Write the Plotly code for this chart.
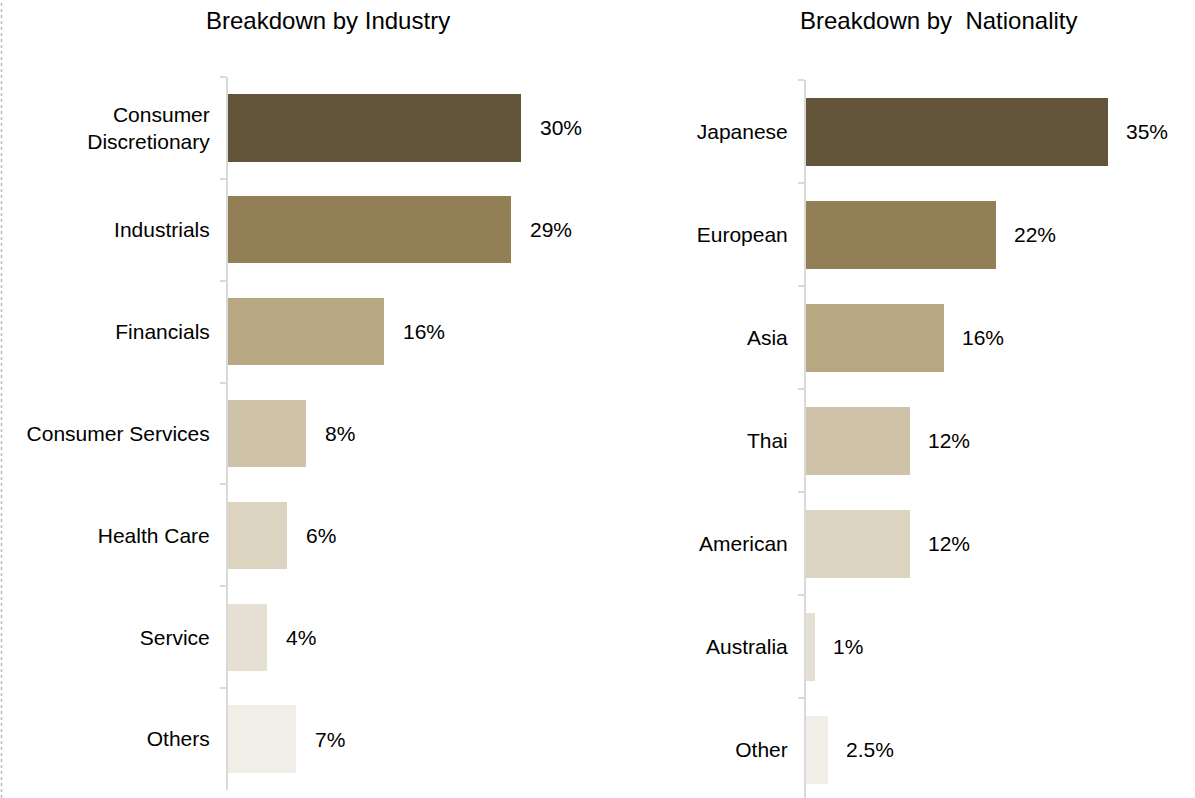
import plotly.graph_objects as go

# Industry breakdown
industries = ["Consumer<br>Discretionary", "Industrials", "Financials",
              "Consumer Services", "Health Care", "Service", "Others"]
industry_pct = [30, 29, 16, 8, 6, 4, 7]
industry_labels = ["30%", "29%", "16%", "8%", "6%", "4%", "7%"]

# Nationality breakdown
nationalities = ["Japanese", "European", "Asia", "Thai", "American",
                 "Australia", "Other"]
nationality_pct = [35, 22, 16, 12, 12, 1, 2.5]
nationality_labels = ["35%", "22%", "16%", "12%", "12%", "1%", "2.5%"]

palette = ["#62553A", "#937F56", "#B8A783", "#CEC2A9",
           "#DDD3C1", "#E6DFD3", "#F1EEE7"]

W, H = 1195, 798
FONT = "Liberation Sans, Arial, sans-serif"
AXIS_GREY = "#D9D9D9"

fig = go.Figure()
fig.add_trace(go.Bar(
    x=industry_pct, y=industries, orientation="h", width=0.66,
    marker=dict(color=palette, line=dict(width=0)),
    xaxis="x", yaxis="y", hoverinfo="skip"))
fig.add_trace(go.Bar(
    x=nationality_pct, y=nationalities, orientation="h", width=0.66,
    marker=dict(color=palette, line=dict(width=0)),
    xaxis="x2", yaxis="y2", hoverinfo="skip"))

annotations = []
for cat, val, lab in zip(industries, industry_pct, industry_labels):
    annotations.append(dict(x=val, y=cat, xref="x", yref="y", text=lab,
                            showarrow=False, xanchor="left", xshift=17,
                            font=dict(size=21, color="#000000", family=FONT)))
for cat, val, lab in zip(nationalities, nationality_pct, nationality_labels):
    annotations.append(dict(x=val, y=cat, xref="x2", yref="y2", text=lab,
                            showarrow=False, xanchor="left", xshift=16,
                            font=dict(size=21, color="#000000", family=FONT)))

# Panel titles
annotations.append(dict(x=328 / W, y=1 - 21 / H, xref="paper", yref="paper",
                        text="Breakdown by Industry", showarrow=False,
                        xanchor="center", yanchor="middle",
                        font=dict(size=24, color="#000000", family=FONT)))
annotations.append(dict(x=938 / W, y=1 - 21 / H, xref="paper", yref="paper",
                        text="Breakdown by \u00a0Nationality", showarrow=False,
                        xanchor="center", yanchor="middle",
                        font=dict(size=24, color="#000000", family=FONT)))

cat_axis = dict(type="category", showline=True, linecolor=AXIS_GREY,
                linewidth=2, ticks="outside", tickson="boundaries",
                ticklen=6, tickwidth=2, tickcolor=AXIS_GREY,
                showgrid=False, zeroline=False, ticklabelstandoff=12,
                tickfont=dict(size=21, color="#000000", family=FONT))
val_axis = dict(showgrid=False, zeroline=False, showticklabels=False,
                showline=False, ticks="")

fig.update_layout(
    width=W, height=H,
    margin=dict(l=0, r=0, t=0, b=0),
    paper_bgcolor="white", plot_bgcolor="white",
    showlegend=False, bargap=0,
    font=dict(family=FONT),
    xaxis=dict(val_axis, domain=[228 / W, 560 / W], range=[0, 34],
               anchor="y"),
    yaxis=dict(cat_axis, domain=[1 - 790 / H, 1 - 77 / H],
               range=[6.5, -0.5], anchor="x"),
    xaxis2=dict(val_axis, domain=[806 / W, 1.0], range=[0, 45.07],
                anchor="y2"),
    yaxis2=dict(cat_axis, domain=[0, 1 - 80 / H],
                range=[6.47, -0.5], anchor="x2"),
    annotations=annotations,
    shapes=[dict(type="line", xref="paper", yref="paper",
                 x0=1.5 / W, x1=1.5 / W, y0=0, y1=1,
                 line=dict(color="#BBBBBB", width=1.5, dash="dot"))],
)

fig.write_html("out.html")
